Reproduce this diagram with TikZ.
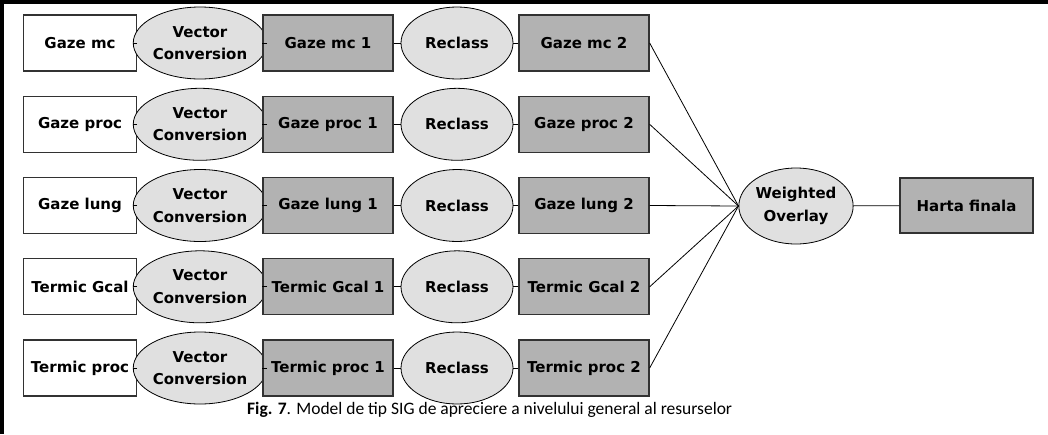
\documentclass[tikz,border=0pt]{standalone}
\usepackage{fontspec}
\setmainfont{DejaVu Sans}
\newfontfamily\capfont{Carlito}
\usetikzlibrary{shapes.geometric}
\definecolor{boxgray}{RGB}{178,178,178}
\definecolor{ellgray}{RGB}{224,224,224}
\definecolor{edge}{RGB}{50,50,50}
\tikzset{
  lbl/.style={font=\fontsize{15}{22.5}\selectfont\bfseries, align=center, inner sep=0pt},
  inbox/.style={lbl, rectangle, draw=edge, line width=1.3pt, fill=white, minimum width=113pt, minimum height=56pt},
  graybox/.style={lbl, rectangle, draw=edge, line width=1.3pt, fill=boxgray, minimum width=130pt, minimum height=56pt},
  tool/.style={lbl, ellipse, draw=black, line width=0.8pt, fill=ellgray, minimum width=113pt, minimum height=72pt},
  conn/.style={draw=black, line width=0.8pt}
}
\begin{document}
\begin{tikzpicture}[x=1pt,y=-1pt]
\useasboundingbox (0,0) rectangle (1048,434);
\fill[black] (0,0) rectangle (1048,3.5);
\fill[black] (0,0) rectangle (4,434);

\foreach \i/\ya/\nm/\na/\nb in {1/43/Gaze mc/Gaze mc 1/Gaze mc 2,
                                2/124.3/Gaze proc/Gaze proc 1/Gaze proc 2,
                                3/205.5/Gaze lung/Gaze lung 1/Gaze lung 2,
                                4/286.8/Termic Gcal/Termic Gcal 1/Termic Gcal 2,
                                5/368/Termic proc/Termic proc 1/Termic proc 2}{
  \node[inbox] (in\i) at (80,\ya) {\nm};
  \node[tool] (vc\i) at (200,\ya) {Vector\\Conversion};
  \node[graybox] (a\i) at (328,\ya) {\na};
  \node[tool, minimum width=112pt] (rc\i) at (457,\ya) {Reclass};
  \node[graybox] (b\i) at (584,\ya) {\nb};
  \draw[conn] (in\i) -- (vc\i);
  \draw[conn] (vc\i) -- (a\i);
  \draw[conn] (a\i) -- (rc\i);
  \draw[conn] (rc\i) -- (b\i);
}

\node[tool, minimum width=111pt, minimum height=76pt] (wo) at (796,206) {Weighted\\Overlay};
\node[graybox, minimum width=133pt, minimum height=55pt] (hf) at (966.5,205.5) {Harta finala};

\foreach \i in {1,...,5}{
  \draw[conn] (b\i.east) -- (wo.west);
}
\draw[conn] (wo) -- (hf);

\node[font=\capfont\fontsize{17.5}{20}\selectfont, inner sep=0pt, anchor=west] (cap) at (247,410)
  {\textbf{Fig. 7}. Model de tip SIG de apreciere a nivelului general al resurselor};
\end{tikzpicture}
\end{document}
